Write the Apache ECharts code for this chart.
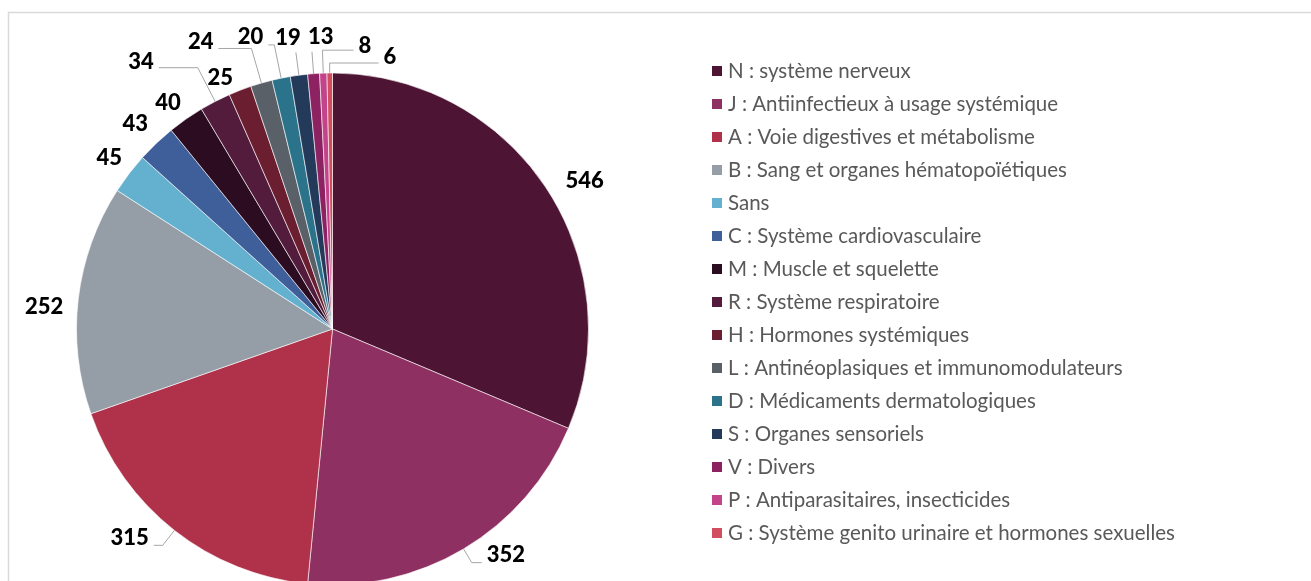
<!DOCTYPE html>
<html>
<head>
<meta charset="utf-8">
<script src="https://cdn.jsdelivr.net/npm/echarts@6/dist/echarts.min.js"></script>
<style>
  html, body { margin: 0; padding: 0; background: #fff; }
  #chart { width: 1311px; height: 581px; }
</style>
</head>
<body>
<div id="chart"></div>
<script>
// ---- data ----
const categories = [
  "N : système nerveux",
  "J : Antiinfectieux à usage systémique",
  "A : Voie digestives et métabolisme",
  "B : Sang et organes hématopoïétiques",
  "Sans",
  "C : Système cardiovasculaire",
  "M : Muscle et squelette",
  "R : Système respiratoire",
  "H : Hormones systémiques",
  "L : Antinéoplasiques et immunomodulateurs",
  "D : Médicaments dermatologiques",
  "S : Organes sensoriels",
  "V : Divers",
  "P : Antiparasitaires, insecticides",
  "G : Système genito urinaire et hormones sexuelles"
];
const values = [546, 352, 315, 252, 45, 43, 40, 34, 25, 24, 20, 19, 13, 8, 6];

// ---- styles ----
const colors = ["#4E1434", "#8E3062", "#B0324A", "#959DA6", "#63B1CF", "#3F5F9B",
  "#2B0C20", "#531C3D", "#6C1E31", "#596068", "#2B738B", "#243A5B",
  "#8D2262", "#C3448A", "#D14E61"];
// label leader geometry (style per slice)
const lineLen  = [20, 16, 19, 15, 9, 15, 9, 38, 8, 36, 34, 23, 22, 23, 10];
const lineLen2 = [-2, 10, 9, -5, -5, -7, -5, 39, -1, 33, 6, -10, -9, 31, 49];
const lineShow = [0, 1, 1, 0, 0, 0, 0, 1, 0, 1, 1, 1, 1, 1, 1];
const flipSide = [0, 0, 0, 0, 0, 0, 0, 0, 0, 0, 0, 0, 1, 1, 1];
const noKink   = [0, 0, 0, 0, 0, 0, 0, 0, 0, 0, 0, 1, 1, 0, 0];
const textDy   = [5, -8, -7, 10, -10, -9, -9, -6, -5, -7, -8, -15, -15, -4, -6];

const chart = echarts.init(document.getElementById('chart'), null, { renderer: 'canvas' });

const seriesData = categories.map((name, i) => ({
  name: name,
  value: values[i],
  itemStyle: { color: colors[i] },
  labelLine: {
    show: true,
    length: lineLen[i],
    length2: 1,
    lineStyle: { color: '#A6A6A6', width: 1, opacity: lineShow[i] ? 1 : 0 }
  }
}));

const option = {
  backgroundColor: '#ffffff',
  animation: false,
  graphic: [{
    type: 'rect',
    shape: { x: 8.5, y: 12.5, width: 1310, height: 600 },
    style: { fill: 'none', stroke: '#D9D9D9', lineWidth: 1.5 },
    silent: true,
    z: -10
  }],
  legend: {
    orient: 'vertical',
    left: 705,
    top: 55,
    icon: 'rect',
    itemWidth: 12,
    itemHeight: 12,
    itemGap: 11,
    selectedMode: false,
    data: categories,
    textStyle: {
      fontFamily: 'Lato',
      fontSize: 20.5,
      lineHeight: 22,
      color: '#595959'
    }
  },
  series: [{
    type: 'pie',
    center: [332.5, 329],
    radius: 256,
    startAngle: 90,
    clockwise: true,
    avoidLabelOverlap: false,
    itemStyle: { borderColor: '#ffffff', borderWidth: 0.6 },
    label: {
      show: true,
      position: 'outside',
      formatter: '{c}',
      fontFamily: 'Lato',
      fontWeight: 900,
      fontSize: 22,
      color: '#000000',
      distanceToLabelLine: 5
    },
    labelLine: { minTurnAngle: 0 },
    labelLayout: function (params) {
      const i = params.dataIndex;
      const pts = params.labelLinePoints;
      if (!pts || pts.length < 2) return {};
      const p0 = pts[0], p1 = pts[1];
      const side = flipSide[i] ? 1 : ((p1[0] - p0[0]) < 0 ? -1 : 1);
      const x3 = p1[0] + side * lineLen2[i];
      const y3 = p1[1];
      const newPts = noKink[i]
        ? [[p0[0], p0[1]], [p1[0], p1[1]], [p1[0], p1[1]]]
        : [[p0[0], p0[1]], [p1[0], p1[1]], [x3, y3]];
      return {
        x: x3 + side * 5,
        y: y3 + textDy[i],
        align: side < 0 ? 'right' : 'left',
        verticalAlign: 'middle',
        labelLinePoints: newPts
      };
    },
    emphasis: { disabled: true },
    data: seriesData
  }]
};

chart.setOption(option);
</script>
</body>
</html>
